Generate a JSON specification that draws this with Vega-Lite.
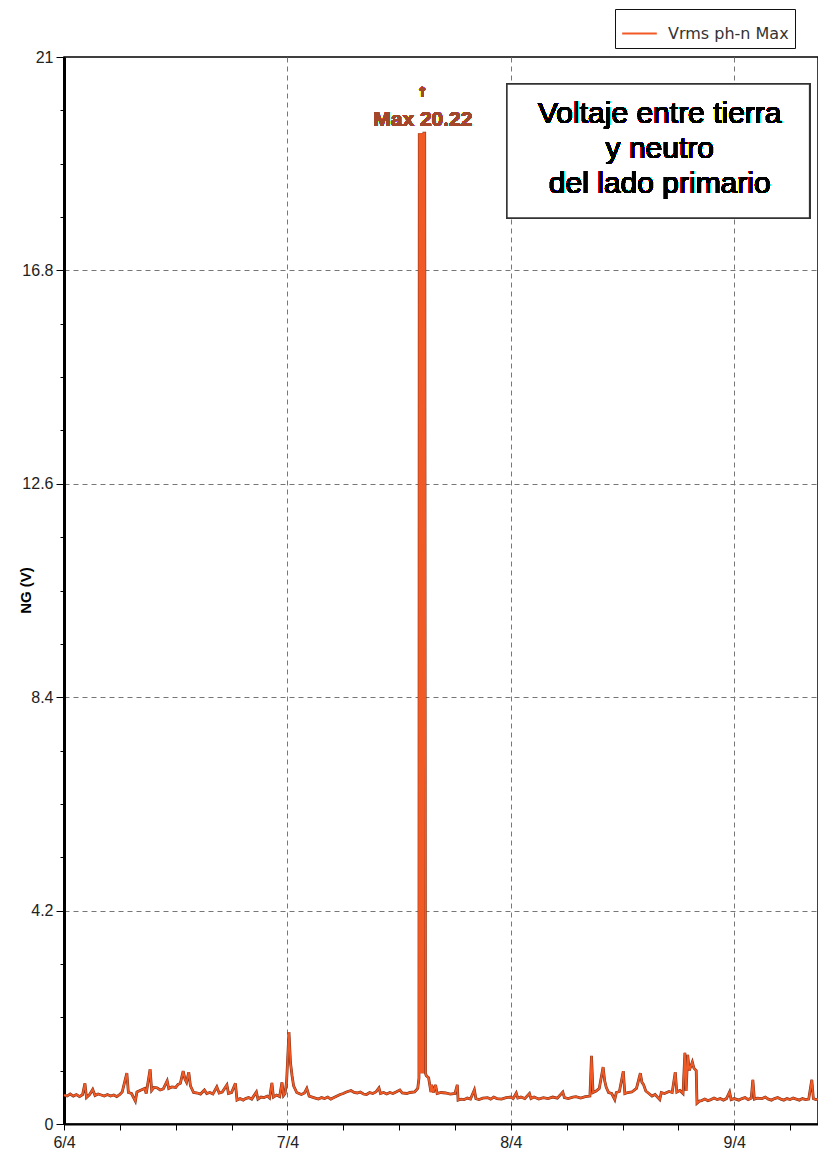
{
  "$schema": "https://vega.github.io/schema/vega-lite/v6.json",
  "width": 754,
  "height": 1067,
  "autosize": {"type": "none"},
  "padding": {"left": 64, "top": 57, "right": 0, "bottom": 36},
  "background": "white",
  "config": {"view": {"stroke": "#000", "strokeWidth": 1.5}, "font": "Liberation Sans"},
  "data": {"values": [
    {"t": "2024-04-06T00:00", "v": 0.57}, {"t": "2024-04-06T00:20", "v": 0.55}, {"t": "2024-04-06T00:40", "v": 0.59},
    {"t": "2024-04-06T01:00", "v": 0.55}, {"t": "2024-04-06T01:20", "v": 0.58}, {"t": "2024-04-06T01:40", "v": 0.54},
    {"t": "2024-04-06T02:00", "v": 0.58}, {"t": "2024-04-06T02:15", "v": 0.80}, {"t": "2024-04-06T02:25", "v": 0.52},
    {"t": "2024-04-06T02:45", "v": 0.58}, {"t": "2024-04-06T03:05", "v": 0.68}, {"t": "2024-04-06T03:20", "v": 0.56},
    {"t": "2024-04-06T03:40", "v": 0.59}, {"t": "2024-04-06T04:00", "v": 0.57}, {"t": "2024-04-06T04:20", "v": 0.55},
    {"t": "2024-04-06T04:40", "v": 0.58}, {"t": "2024-04-06T05:00", "v": 0.55}, {"t": "2024-04-06T05:20", "v": 0.57},
    {"t": "2024-04-06T05:40", "v": 0.54}, {"t": "2024-04-06T06:00", "v": 0.58}, {"t": "2024-04-06T06:15", "v": 0.63},
    {"t": "2024-04-06T06:45", "v": 1.00}, {"t": "2024-04-06T06:55", "v": 0.62}, {"t": "2024-04-06T07:15", "v": 0.60},
    {"t": "2024-04-06T07:40", "v": 0.45}, {"t": "2024-04-06T07:50", "v": 0.63}, {"t": "2024-04-06T08:10", "v": 0.66},
    {"t": "2024-04-06T08:40", "v": 0.70}, {"t": "2024-04-06T08:50", "v": 0.60}, {"t": "2024-04-06T09:15", "v": 1.08},
    {"t": "2024-04-06T09:25", "v": 0.66}, {"t": "2024-04-06T09:40", "v": 0.72}, {"t": "2024-04-06T10:00", "v": 0.71},
    {"t": "2024-04-06T10:20", "v": 0.67}, {"t": "2024-04-06T10:40", "v": 0.69}, {"t": "2024-04-06T11:05", "v": 0.85},
    {"t": "2024-04-06T11:15", "v": 0.70}, {"t": "2024-04-06T11:35", "v": 0.73}, {"t": "2024-04-06T12:00", "v": 0.72},
    {"t": "2024-04-06T12:15", "v": 0.78}, {"t": "2024-04-06T12:30", "v": 0.80}, {"t": "2024-04-06T12:48", "v": 1.04},
    {"t": "2024-04-06T13:00", "v": 0.88}, {"t": "2024-04-06T13:10", "v": 0.82}, {"t": "2024-04-06T13:24", "v": 1.02},
    {"t": "2024-04-06T13:35", "v": 0.75}, {"t": "2024-04-06T13:55", "v": 0.62}, {"t": "2024-04-06T14:20", "v": 0.61},
    {"t": "2024-04-06T14:40", "v": 0.59}, {"t": "2024-04-06T15:05", "v": 0.67}, {"t": "2024-04-06T15:20", "v": 0.60},
    {"t": "2024-04-06T15:40", "v": 0.62}, {"t": "2024-04-06T16:00", "v": 0.59}, {"t": "2024-04-06T16:25", "v": 0.73},
    {"t": "2024-04-06T16:40", "v": 0.61}, {"t": "2024-04-06T17:00", "v": 0.63}, {"t": "2024-04-06T17:30", "v": 0.77},
    {"t": "2024-04-06T17:40", "v": 0.60}, {"t": "2024-04-06T18:00", "v": 0.62}, {"t": "2024-04-06T18:25", "v": 0.80},
    {"t": "2024-04-06T18:35", "v": 0.47}, {"t": "2024-04-06T18:55", "v": 0.50}, {"t": "2024-04-06T19:15", "v": 0.47},
    {"t": "2024-04-06T19:30", "v": 0.50}, {"t": "2024-04-06T19:50", "v": 0.52}, {"t": "2024-04-06T20:10", "v": 0.49},
    {"t": "2024-04-06T20:40", "v": 0.63}, {"t": "2024-04-06T20:50", "v": 0.49}, {"t": "2024-04-06T21:10", "v": 0.53},
    {"t": "2024-04-06T21:30", "v": 0.52}, {"t": "2024-04-06T21:50", "v": 0.55}, {"t": "2024-04-06T22:05", "v": 0.51},
    {"t": "2024-04-06T22:20", "v": 0.81}, {"t": "2024-04-06T22:30", "v": 0.53}, {"t": "2024-04-06T22:50", "v": 0.57},
    {"t": "2024-04-06T23:10", "v": 0.54}, {"t": "2024-04-06T23:25", "v": 0.82}, {"t": "2024-04-06T23:35", "v": 0.56},
    {"t": "2024-04-06T23:45", "v": 0.60}, {"t": "2024-04-06T23:55", "v": 0.85},
    {"t": "2024-04-07T00:10", "v": 1.81}, {"t": "2024-04-07T00:20", "v": 1.20}, {"t": "2024-04-07T00:30", "v": 0.95},
    {"t": "2024-04-07T00:40", "v": 0.75}, {"t": "2024-04-07T01:00", "v": 0.62}, {"t": "2024-04-07T01:15", "v": 0.60},
    {"t": "2024-04-07T01:30", "v": 0.58}, {"t": "2024-04-07T01:50", "v": 0.61}, {"t": "2024-04-07T02:05", "v": 0.70},
    {"t": "2024-04-07T02:20", "v": 0.55}, {"t": "2024-04-07T02:40", "v": 0.53}, {"t": "2024-04-07T03:00", "v": 0.51},
    {"t": "2024-04-07T03:20", "v": 0.49}, {"t": "2024-04-07T03:40", "v": 0.52}, {"t": "2024-04-07T04:00", "v": 0.50},
    {"t": "2024-04-07T04:20", "v": 0.53}, {"t": "2024-04-07T04:40", "v": 0.49}, {"t": "2024-04-07T05:00", "v": 0.52},
    {"t": "2024-04-07T05:20", "v": 0.55}, {"t": "2024-04-07T05:40", "v": 0.58}, {"t": "2024-04-07T06:00", "v": 0.60},
    {"t": "2024-04-07T06:20", "v": 0.63}, {"t": "2024-04-07T06:50", "v": 0.66}, {"t": "2024-04-07T07:10", "v": 0.62},
    {"t": "2024-04-07T07:30", "v": 0.61}, {"t": "2024-04-07T07:50", "v": 0.63}, {"t": "2024-04-07T08:10", "v": 0.59},
    {"t": "2024-04-07T08:30", "v": 0.58}, {"t": "2024-04-07T08:50", "v": 0.62}, {"t": "2024-04-07T09:10", "v": 0.60},
    {"t": "2024-04-07T09:30", "v": 0.63}, {"t": "2024-04-07T09:50", "v": 0.71}, {"t": "2024-04-07T10:00", "v": 0.60},
    {"t": "2024-04-07T10:20", "v": 0.62}, {"t": "2024-04-07T10:40", "v": 0.59}, {"t": "2024-04-07T11:00", "v": 0.62},
    {"t": "2024-04-07T11:20", "v": 0.60}, {"t": "2024-04-07T11:40", "v": 0.63}, {"t": "2024-04-07T12:05", "v": 0.67},
    {"t": "2024-04-07T12:20", "v": 0.61}, {"t": "2024-04-07T12:50", "v": 0.60}, {"t": "2024-04-07T13:10", "v": 0.62},
    {"t": "2024-04-07T13:40", "v": 0.63}, {"t": "2024-04-07T14:00", "v": 0.70}, {"t": "2024-04-07T14:08", "v": 0.90},
    {"t": "2024-04-07T14:10", "v": 19.5}, {"t": "2024-04-07T14:15", "v": 1.0}, {"t": "2024-04-07T14:20", "v": 19.5},
    {"t": "2024-04-07T14:25", "v": 1.0}, {"t": "2024-04-07T14:30", "v": 19.5}, {"t": "2024-04-07T14:35", "v": 1.0},
    {"t": "2024-04-07T14:40", "v": 19.5}, {"t": "2024-04-07T14:45", "v": 19.5}, {"t": "2024-04-07T14:50", "v": 1.0},
    {"t": "2024-04-07T14:55", "v": 0.95}, {"t": "2024-04-07T15:10", "v": 0.91}, {"t": "2024-04-07T15:25", "v": 0.63},
    {"t": "2024-04-07T15:30", "v": 0.77}, {"t": "2024-04-07T15:40", "v": 0.62}, {"t": "2024-04-07T15:55", "v": 0.77},
    {"t": "2024-04-07T16:05", "v": 0.60}, {"t": "2024-04-07T16:30", "v": 0.62}, {"t": "2024-04-07T17:00", "v": 0.61},
    {"t": "2024-04-07T17:30", "v": 0.59}, {"t": "2024-04-07T18:00", "v": 0.60}, {"t": "2024-04-07T18:15", "v": 0.77},
    {"t": "2024-04-07T18:20", "v": 0.47}, {"t": "2024-04-07T18:40", "v": 0.49}, {"t": "2024-04-07T19:00", "v": 0.48},
    {"t": "2024-04-07T19:20", "v": 0.51}, {"t": "2024-04-07T19:40", "v": 0.49}, {"t": "2024-04-07T20:05", "v": 0.67},
    {"t": "2024-04-07T20:15", "v": 0.50}, {"t": "2024-04-07T20:35", "v": 0.48}, {"t": "2024-04-07T21:00", "v": 0.51},
    {"t": "2024-04-07T21:30", "v": 0.52}, {"t": "2024-04-07T21:50", "v": 0.49}, {"t": "2024-04-07T22:10", "v": 0.53},
    {"t": "2024-04-07T22:30", "v": 0.50}, {"t": "2024-04-07T23:00", "v": 0.49}, {"t": "2024-04-07T23:30", "v": 0.52},
    {"t": "2024-04-08T00:00", "v": 0.53}, {"t": "2024-04-08T00:15", "v": 0.50}, {"t": "2024-04-08T00:35", "v": 0.61},
    {"t": "2024-04-08T00:45", "v": 0.51}, {"t": "2024-04-08T01:05", "v": 0.53}, {"t": "2024-04-08T01:30", "v": 0.50},
    {"t": "2024-04-08T02:00", "v": 0.60}, {"t": "2024-04-08T02:10", "v": 0.50}, {"t": "2024-04-08T02:30", "v": 0.53},
    {"t": "2024-04-08T03:00", "v": 0.49}, {"t": "2024-04-08T03:30", "v": 0.52}, {"t": "2024-04-08T04:00", "v": 0.50},
    {"t": "2024-04-08T04:30", "v": 0.53}, {"t": "2024-04-08T05:00", "v": 0.51}, {"t": "2024-04-08T05:35", "v": 0.63},
    {"t": "2024-04-08T05:45", "v": 0.52}, {"t": "2024-04-08T06:10", "v": 0.50}, {"t": "2024-04-08T06:40", "v": 0.53},
    {"t": "2024-04-08T07:00", "v": 0.54}, {"t": "2024-04-08T07:30", "v": 0.51}, {"t": "2024-04-08T08:00", "v": 0.54},
    {"t": "2024-04-08T08:30", "v": 0.55}, {"t": "2024-04-08T08:40", "v": 1.34}, {"t": "2024-04-08T08:50", "v": 0.62},
    {"t": "2024-04-08T09:10", "v": 0.65}, {"t": "2024-04-08T09:30", "v": 0.70}, {"t": "2024-04-08T09:55", "v": 1.12},
    {"t": "2024-04-08T10:05", "v": 0.85}, {"t": "2024-04-08T10:15", "v": 0.72}, {"t": "2024-04-08T10:30", "v": 0.62},
    {"t": "2024-04-08T10:50", "v": 0.60}, {"t": "2024-04-08T11:10", "v": 0.48}, {"t": "2024-04-08T11:20", "v": 0.62},
    {"t": "2024-04-08T11:40", "v": 0.64}, {"t": "2024-04-08T12:05", "v": 1.04}, {"t": "2024-04-08T12:15", "v": 0.60},
    {"t": "2024-04-08T12:35", "v": 0.62}, {"t": "2024-04-08T13:00", "v": 0.63}, {"t": "2024-04-08T13:30", "v": 0.70},
    {"t": "2024-04-08T13:55", "v": 1.00}, {"t": "2024-04-08T14:05", "v": 0.82}, {"t": "2024-04-08T14:15", "v": 0.78},
    {"t": "2024-04-08T14:30", "v": 0.65}, {"t": "2024-04-08T14:50", "v": 0.60}, {"t": "2024-04-08T15:10", "v": 0.55},
    {"t": "2024-04-08T15:30", "v": 0.58}, {"t": "2024-04-08T16:00", "v": 0.48}, {"t": "2024-04-08T16:10", "v": 0.62},
    {"t": "2024-04-08T16:30", "v": 0.60}, {"t": "2024-04-08T17:00", "v": 0.64}, {"t": "2024-04-08T17:20", "v": 0.62},
    {"t": "2024-04-08T17:40", "v": 1.02}, {"t": "2024-04-08T17:50", "v": 0.63}, {"t": "2024-04-08T18:10", "v": 0.66},
    {"t": "2024-04-08T18:30", "v": 0.60}, {"t": "2024-04-08T18:42", "v": 1.40}, {"t": "2024-04-08T18:50", "v": 0.65},
    {"t": "2024-04-08T19:00", "v": 1.36}, {"t": "2024-04-08T19:10", "v": 1.05}, {"t": "2024-04-08T19:30", "v": 1.22},
    {"t": "2024-04-08T19:40", "v": 1.10}, {"t": "2024-04-08T19:55", "v": 1.05}, {"t": "2024-04-08T20:00", "v": 0.41},
    {"t": "2024-04-08T20:15", "v": 0.45}, {"t": "2024-04-08T20:30", "v": 0.46}, {"t": "2024-04-08T20:50", "v": 0.49},
    {"t": "2024-04-08T21:10", "v": 0.46}, {"t": "2024-04-08T21:30", "v": 0.48}, {"t": "2024-04-08T21:50", "v": 0.51},
    {"t": "2024-04-08T22:10", "v": 0.48}, {"t": "2024-04-08T22:30", "v": 0.50}, {"t": "2024-04-08T22:50", "v": 0.47},
    {"t": "2024-04-08T23:10", "v": 0.50}, {"t": "2024-04-08T23:30", "v": 0.63}, {"t": "2024-04-08T23:40", "v": 0.48},
    {"t": "2024-04-09T00:00", "v": 0.50}, {"t": "2024-04-09T00:30", "v": 0.47}, {"t": "2024-04-09T00:50", "v": 0.50},
    {"t": "2024-04-09T01:10", "v": 0.52}, {"t": "2024-04-09T01:30", "v": 0.48}, {"t": "2024-04-09T01:50", "v": 0.51},
    {"t": "2024-04-09T02:00", "v": 0.87}, {"t": "2024-04-09T02:10", "v": 0.49}, {"t": "2024-04-09T02:30", "v": 0.51},
    {"t": "2024-04-09T03:00", "v": 0.50}, {"t": "2024-04-09T03:20", "v": 0.53}, {"t": "2024-04-09T03:40", "v": 0.49},
    {"t": "2024-04-09T04:00", "v": 0.47}, {"t": "2024-04-09T04:20", "v": 0.50}, {"t": "2024-04-09T04:40", "v": 0.52},
    {"t": "2024-04-09T05:00", "v": 0.49}, {"t": "2024-04-09T05:20", "v": 0.47}, {"t": "2024-04-09T05:40", "v": 0.50},
    {"t": "2024-04-09T06:00", "v": 0.48}, {"t": "2024-04-09T06:20", "v": 0.51}, {"t": "2024-04-09T06:40", "v": 0.49},
    {"t": "2024-04-09T07:00", "v": 0.47}, {"t": "2024-04-09T07:20", "v": 0.50}, {"t": "2024-04-09T07:40", "v": 0.48},
    {"t": "2024-04-09T08:00", "v": 0.49}, {"t": "2024-04-09T08:20", "v": 0.87}, {"t": "2024-04-09T08:30", "v": 0.50},
    {"t": "2024-04-09T08:45", "v": 0.48}, {"t": "2024-04-09T09:00", "v": 0.49}
  ]},
  "layer": [
    {
      "mark": {"type": "line", "color": "#7b2e18", "strokeWidth": 2.8},
      "encoding": {
        "x": {
          "field": "t", "type": "temporal",
          "scale": {"domain": [{"year": 2024, "month": 4, "date": 6, "hours": 0}, {"year": 2024, "month": 4, "date": 9, "hours": 9}]},
          "axis": {
            "title": null,
            "values": [
              {"year": 2024, "month": 4, "date": 6, "hours": 0}, {"year": 2024, "month": 4, "date": 6, "hours": 6},
              {"year": 2024, "month": 4, "date": 6, "hours": 12}, {"year": 2024, "month": 4, "date": 6, "hours": 18},
              {"year": 2024, "month": 4, "date": 7, "hours": 0}, {"year": 2024, "month": 4, "date": 7, "hours": 6},
              {"year": 2024, "month": 4, "date": 7, "hours": 12}, {"year": 2024, "month": 4, "date": 7, "hours": 18},
              {"year": 2024, "month": 4, "date": 8, "hours": 0}, {"year": 2024, "month": 4, "date": 8, "hours": 6},
              {"year": 2024, "month": 4, "date": 8, "hours": 12}, {"year": 2024, "month": 4, "date": 8, "hours": 18},
              {"year": 2024, "month": 4, "date": 9, "hours": 0}, {"year": 2024, "month": 4, "date": 9, "hours": 6}
            ],
            "labelExpr": "hours(datum.value) == 0 ? timeFormat(datum.value, '%-d/%-m') : ''",
            "labelOverlap": false,
            "labelFlush": false,
            "labelFontSize": 16,
            "labelColor": "#222",
            "labelPadding": 4,
            "grid": true,
            "gridColor": "#777",
            "gridDash": [5, 4],
            "gridOpacity": {"condition": {"test": "hours(datum.value) == 0 && date(datum.value) != 6", "value": 1}, "value": 0},
            "tickSize": 6,
            "tickColor": "#000",
            "domainColor": "#000",
            "domainWidth": 2
          }
        },
        "y": {
          "field": "v", "type": "quantitative",
          "scale": {"domain": [0, 21], "nice": false},
          "axis": {
            "title": "NG (V)",
            "titleFontWeight": "bold",
            "titleFontSize": 15,
            "titleColor": "#000",
            "titleX": -39,
            "titleY": 533,
            "titleAlign": "center",
            "titleBaseline": "middle",
            "values": [0, 1.05, 2.1, 3.15, 4.2, 5.25, 6.3, 7.35, 8.4, 9.45, 10.5, 11.55, 12.6, 13.65, 14.7, 15.75, 16.8, 17.85, 18.9, 19.95, 21],
            "labelExpr": "abs(datum.value / 4.2 - round(datum.value / 4.2)) < 0.001 ? ((datum.value == 0 || datum.value == 21) ? format(datum.value, 'd') : format(datum.value, '.1f')) : ''",
            "labelOverlap": false,
            "labelFontSize": 16,
            "labelColor": "#222",
            "labelPadding": 3,
            "grid": true,
            "gridColor": "#777",
            "gridDash": [5, 4],
            "gridOpacity": {"condition": {"test": "abs(datum.value / 4.2 - round(datum.value / 4.2)) < 0.001 && datum.value > 0 && datum.value < 21", "value": 1}, "value": 0},
            "tickSize": {"condition": {"test": "abs(datum.value / 4.2 - round(datum.value / 4.2)) < 0.001", "value": 8}, "value": 4},
            "tickColor": "#000",
            "domainColor": "#000",
            "domainWidth": 3
          }
        }
      }
    },
    {
      "mark": {"type": "line", "strokeWidth": 1.8},
      "encoding": {
        "x": {"field": "t", "type": "temporal"},
        "y": {"field": "v", "type": "quantitative"},
        "color": {
          "datum": "Vrms ph-n Max",
          "scale": {"range": ["#f15a24"]},
          "legend": {
            "title": null,
            "orient": "none",
            "legendX": 551,
            "legendY": -48,
            "symbolType": "stroke",
            "symbolStrokeWidth": 2,
            "symbolSize": 1200,
            "labelFont": "DejaVu Sans",
            "labelFontSize": 16,
            "labelColor": "#333",
            "labelOffset": 10,
            "padding": 6,
            "strokeColor": "#111"
          }
        }
      }
    },
    {
      "mark": {"type": "rect", "fill": "white", "stroke": "#333", "strokeWidth": 1.5},
      "encoding": {
        "x": {"datum": {"year": 2024, "month": 4, "date": 7, "hours": 23, "minutes": 35}, "type": "temporal"},
        "x2": {"datum": {"year": 2024, "month": 4, "date": 9, "hours": 8, "minutes": 6}},
        "y": {"datum": 20.47, "type": "quantitative"},
        "y2": {"datum": 17.83}
      }
    },
    {
      "mark": {"type": "text", "text": ["Voltaje entre tierra", "y neutro", "del lado primario"], "fontSize": 30, "lineHeight": 35, "align": "center", "baseline": "middle", "font": "Liberation Sans", "fill": "#000"},
      "encoding": {
        "x": {"datum": {"year": 2024, "month": 4, "date": 8, "hours": 16, "minutes": 0}, "type": "temporal"},
        "y": {"datum": 19.88, "type": "quantitative"}
      }
    },
    {
      "mark": {"type": "text", "text": "Max 20.22", "fontSize": 21, "fontWeight": "bold", "fill": "#a4462a", "align": "center", "baseline": "middle", "font": "Liberation Sans"},
      "encoding": {
        "x": {"datum": {"year": 2024, "month": 4, "date": 7, "hours": 14, "minutes": 33}, "type": "temporal"},
        "y": {"datum": 19.76, "type": "quantitative"}
      }
    },
    {
      "mark": {"type": "text", "text": "↑", "fontSize": 14, "fontWeight": "bold", "fill": "#a4462a", "align": "center", "baseline": "middle", "font": "DejaVu Sans"},
      "encoding": {
        "x": {"datum": {"year": 2024, "month": 4, "date": 7, "hours": 14, "minutes": 30}, "type": "temporal"},
        "y": {"datum": 20.3, "type": "quantitative"}
      }
    }
  ]
}
